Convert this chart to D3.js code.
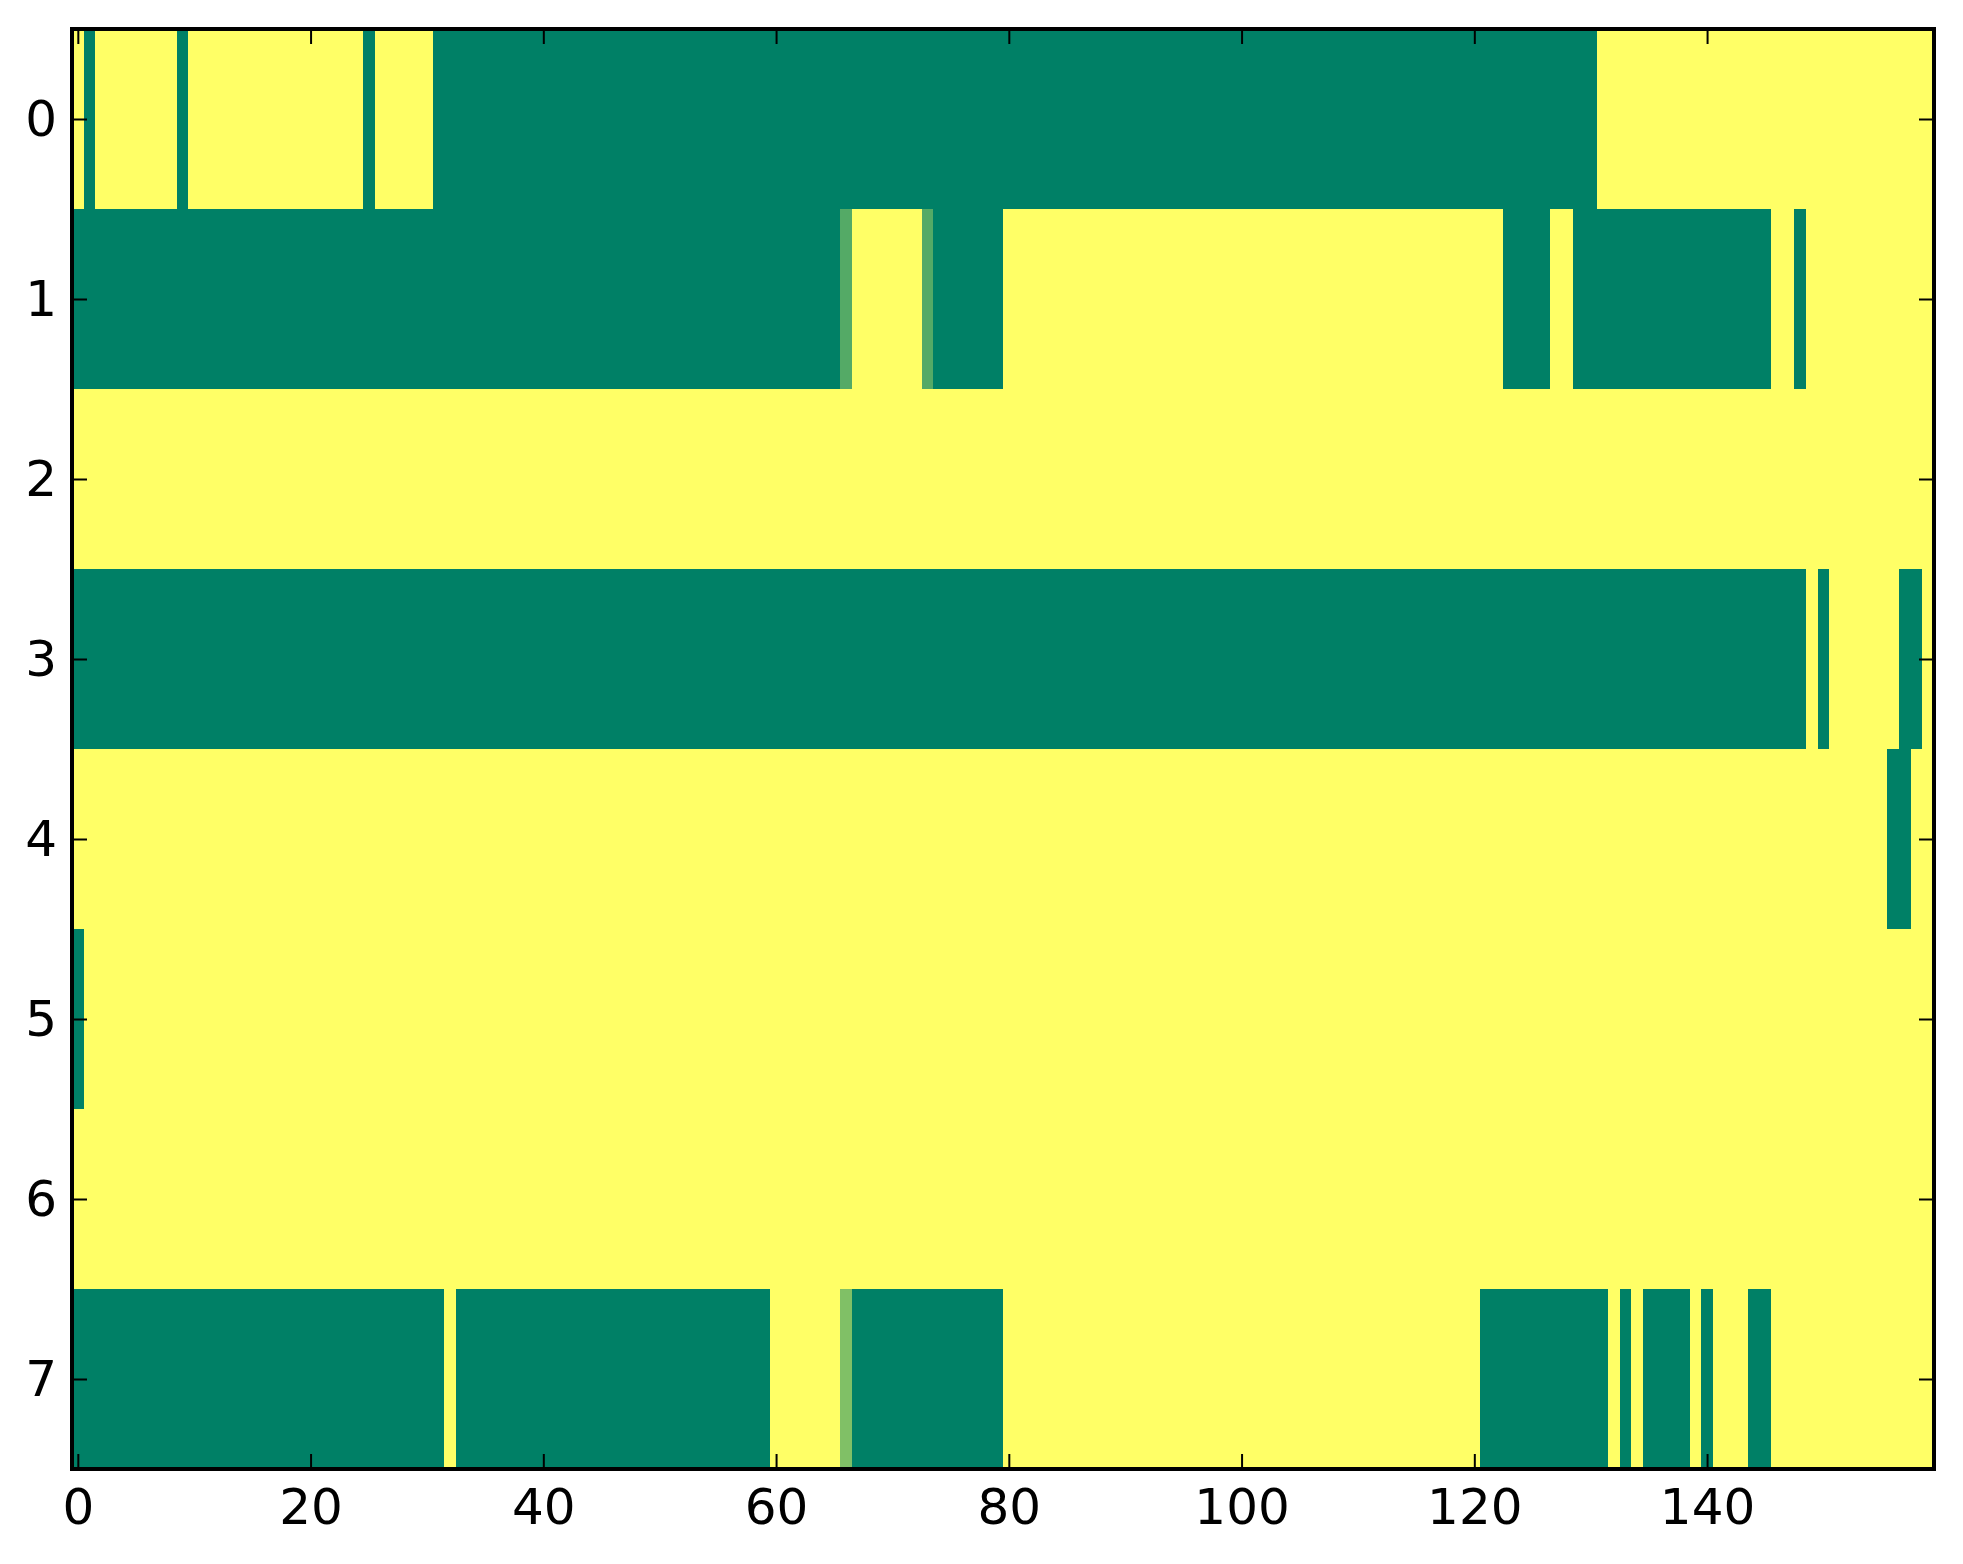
<html>
<script src='https://d3js.org/d3.v7.min.js'></script>
<style>
    body {
        margin: 0;
        background: #ffffff;
    }
</style>

<body>
    <svg id='chart' width=1963 height=1564></svg>
</body>

<script>
    // one array per matrix row, 160 columns each (0 = green, 1 = yellow)
    var row0 = [
        1, 0, 1, 1, 1, 1, 1, 1, 1, 0, 1, 1, 1, 1, 1, 1, 1, 1, 1, 1,
        1, 1, 1, 1, 1, 0, 1, 1, 1, 1, 1, 0, 0, 0, 0, 0, 0, 0, 0, 0,
        0, 0, 0, 0, 0, 0, 0, 0, 0, 0, 0, 0, 0, 0, 0, 0, 0, 0, 0, 0,
        0, 0, 0, 0, 0, 0, 0, 0, 0, 0, 0, 0, 0, 0, 0, 0, 0, 0, 0, 0,
        0, 0, 0, 0, 0, 0, 0, 0, 0, 0, 0, 0, 0, 0, 0, 0, 0, 0, 0, 0,
        0, 0, 0, 0, 0, 0, 0, 0, 0, 0, 0, 0, 0, 0, 0, 0, 0, 0, 0, 0,
        0, 0, 0, 0, 0, 0, 0, 0, 0, 0, 0, 1, 1, 1, 1, 1, 1, 1, 1, 1,
        1, 1, 1, 1, 1, 1, 1, 1, 1, 1, 1, 1, 1, 1, 1, 1, 1, 1, 1, 1
    ];
    var row1 = [
        0, 0, 0, 0, 0, 0, 0, 0, 0, 0, 0, 0, 0, 0, 0, 0, 0, 0, 0, 0,
        0, 0, 0, 0, 0, 0, 0, 0, 0, 0, 0, 0, 0, 0, 0, 0, 0, 0, 0, 0,
        0, 0, 0, 0, 0, 0, 0, 0, 0, 0, 0, 0, 0, 0, 0, 0, 0, 0, 0, 0,
        0, 0, 0, 0, 0, 0, 0.33, 1, 1, 1, 1, 1, 1, 0.33, 0, 0, 0, 0, 0, 0,
        1, 1, 1, 1, 1, 1, 1, 1, 1, 1, 1, 1, 1, 1, 1, 1, 1, 1, 1, 1,
        1, 1, 1, 1, 1, 1, 1, 1, 1, 1, 1, 1, 1, 1, 1, 1, 1, 1, 1, 1,
        1, 1, 1, 0, 0, 0, 0, 1, 1, 0, 0, 0, 0, 0, 0, 0, 0, 0, 0, 0,
        0, 0, 0, 0, 0, 0, 1, 1, 0, 1, 1, 1, 1, 1, 1, 1, 1, 1, 1, 1
    ];
    var row2 = [
        1, 1, 1, 1, 1, 1, 1, 1, 1, 1, 1, 1, 1, 1, 1, 1, 1, 1, 1, 1,
        1, 1, 1, 1, 1, 1, 1, 1, 1, 1, 1, 1, 1, 1, 1, 1, 1, 1, 1, 1,
        1, 1, 1, 1, 1, 1, 1, 1, 1, 1, 1, 1, 1, 1, 1, 1, 1, 1, 1, 1,
        1, 1, 1, 1, 1, 1, 1, 1, 1, 1, 1, 1, 1, 1, 1, 1, 1, 1, 1, 1,
        1, 1, 1, 1, 1, 1, 1, 1, 1, 1, 1, 1, 1, 1, 1, 1, 1, 1, 1, 1,
        1, 1, 1, 1, 1, 1, 1, 1, 1, 1, 1, 1, 1, 1, 1, 1, 1, 1, 1, 1,
        1, 1, 1, 1, 1, 1, 1, 1, 1, 1, 1, 1, 1, 1, 1, 1, 1, 1, 1, 1,
        1, 1, 1, 1, 1, 1, 1, 1, 1, 1, 1, 1, 1, 1, 1, 1, 1, 1, 1, 1
    ];
    var row3 = [
        0, 0, 0, 0, 0, 0, 0, 0, 0, 0, 0, 0, 0, 0, 0, 0, 0, 0, 0, 0,
        0, 0, 0, 0, 0, 0, 0, 0, 0, 0, 0, 0, 0, 0, 0, 0, 0, 0, 0, 0,
        0, 0, 0, 0, 0, 0, 0, 0, 0, 0, 0, 0, 0, 0, 0, 0, 0, 0, 0, 0,
        0, 0, 0, 0, 0, 0, 0, 0, 0, 0, 0, 0, 0, 0, 0, 0, 0, 0, 0, 0,
        0, 0, 0, 0, 0, 0, 0, 0, 0, 0, 0, 0, 0, 0, 0, 0, 0, 0, 0, 0,
        0, 0, 0, 0, 0, 0, 0, 0, 0, 0, 0, 0, 0, 0, 0, 0, 0, 0, 0, 0,
        0, 0, 0, 0, 0, 0, 0, 0, 0, 0, 0, 0, 0, 0, 0, 0, 0, 0, 0, 0,
        0, 0, 0, 0, 0, 0, 0, 0, 0, 1, 0, 1, 1, 1, 1, 1, 1, 0, 0, 1
    ];
    var row4 = [
        1, 1, 1, 1, 1, 1, 1, 1, 1, 1, 1, 1, 1, 1, 1, 1, 1, 1, 1, 1,
        1, 1, 1, 1, 1, 1, 1, 1, 1, 1, 1, 1, 1, 1, 1, 1, 1, 1, 1, 1,
        1, 1, 1, 1, 1, 1, 1, 1, 1, 1, 1, 1, 1, 1, 1, 1, 1, 1, 1, 1,
        1, 1, 1, 1, 1, 1, 1, 1, 1, 1, 1, 1, 1, 1, 1, 1, 1, 1, 1, 1,
        1, 1, 1, 1, 1, 1, 1, 1, 1, 1, 1, 1, 1, 1, 1, 1, 1, 1, 1, 1,
        1, 1, 1, 1, 1, 1, 1, 1, 1, 1, 1, 1, 1, 1, 1, 1, 1, 1, 1, 1,
        1, 1, 1, 1, 1, 1, 1, 1, 1, 1, 1, 1, 1, 1, 1, 1, 1, 1, 1, 1,
        1, 1, 1, 1, 1, 1, 1, 1, 1, 1, 1, 1, 1, 1, 1, 1, 0, 0, 1, 1
    ];
    var row5 = [
        0, 1, 1, 1, 1, 1, 1, 1, 1, 1, 1, 1, 1, 1, 1, 1, 1, 1, 1, 1,
        1, 1, 1, 1, 1, 1, 1, 1, 1, 1, 1, 1, 1, 1, 1, 1, 1, 1, 1, 1,
        1, 1, 1, 1, 1, 1, 1, 1, 1, 1, 1, 1, 1, 1, 1, 1, 1, 1, 1, 1,
        1, 1, 1, 1, 1, 1, 1, 1, 1, 1, 1, 1, 1, 1, 1, 1, 1, 1, 1, 1,
        1, 1, 1, 1, 1, 1, 1, 1, 1, 1, 1, 1, 1, 1, 1, 1, 1, 1, 1, 1,
        1, 1, 1, 1, 1, 1, 1, 1, 1, 1, 1, 1, 1, 1, 1, 1, 1, 1, 1, 1,
        1, 1, 1, 1, 1, 1, 1, 1, 1, 1, 1, 1, 1, 1, 1, 1, 1, 1, 1, 1,
        1, 1, 1, 1, 1, 1, 1, 1, 1, 1, 1, 1, 1, 1, 1, 1, 1, 1, 1, 1
    ];
    var row6 = [
        1, 1, 1, 1, 1, 1, 1, 1, 1, 1, 1, 1, 1, 1, 1, 1, 1, 1, 1, 1,
        1, 1, 1, 1, 1, 1, 1, 1, 1, 1, 1, 1, 1, 1, 1, 1, 1, 1, 1, 1,
        1, 1, 1, 1, 1, 1, 1, 1, 1, 1, 1, 1, 1, 1, 1, 1, 1, 1, 1, 1,
        1, 1, 1, 1, 1, 1, 1, 1, 1, 1, 1, 1, 1, 1, 1, 1, 1, 1, 1, 1,
        1, 1, 1, 1, 1, 1, 1, 1, 1, 1, 1, 1, 1, 1, 1, 1, 1, 1, 1, 1,
        1, 1, 1, 1, 1, 1, 1, 1, 1, 1, 1, 1, 1, 1, 1, 1, 1, 1, 1, 1,
        1, 1, 1, 1, 1, 1, 1, 1, 1, 1, 1, 1, 1, 1, 1, 1, 1, 1, 1, 1,
        1, 1, 1, 1, 1, 1, 1, 1, 1, 1, 1, 1, 1, 1, 1, 1, 1, 1, 1, 1
    ];
    var row7 = [
        0, 0, 0, 0, 0, 0, 0, 0, 0, 0, 0, 0, 0, 0, 0, 0, 0, 0, 0, 0,
        0, 0, 0, 0, 0, 0, 0, 0, 0, 0, 0, 0, 1, 0, 0, 0, 0, 0, 0, 0,
        0, 0, 0, 0, 0, 0, 0, 0, 0, 0, 0, 0, 0, 0, 0, 0, 0, 0, 0, 0,
        1, 1, 1, 1, 1, 1, 0.5, 0, 0, 0, 0, 0, 0, 0, 0, 0, 0, 0, 0, 0,
        1, 1, 1, 1, 1, 1, 1, 1, 1, 1, 1, 1, 1, 1, 1, 1, 1, 1, 1, 1,
        1, 1, 1, 1, 1, 1, 1, 1, 1, 1, 1, 1, 1, 1, 1, 1, 1, 1, 1, 1,
        1, 0, 0, 0, 0, 0, 0, 0, 0, 0, 0, 0, 1, 0, 1, 0, 0, 0, 0, 1,
        0, 1, 1, 1, 0, 0, 1, 1, 1, 1, 1, 1, 1, 1, 1, 1, 1, 1, 1, 1
    ];

    var rows = [row0, row1, row2, row3, row4, row5, row6, row7];
    var xTicks = [0, 20, 40, 60, 80, 100, 120, 140];
    var yTicks = [0, 1, 2, 3, 4, 5, 6, 7];

    // plot box in page pixels
    var mLeft = 72, mRight = 1934, mTop = 29, mBottom = 1469;
    var tickLen = 15;

    var svg = d3.select('#chart');

    var x = d3.scaleLinear()
        .domain([-0.5, row0.length - 0.5])
        .range([mLeft, mRight]);

    var y = d3.scaleLinear()
        .domain([-0.5, rows.length - 0.5])
        .range([mTop, mBottom]);

    // matplotlib 'summer' colormap
    var color = d3.scaleLinear()
        .domain([0, 1])
        .range(['#008066', '#ffff66'])
        .interpolate(d3.interpolateRgb);

    var cells = [];
    rows.forEach(function(r, i) {
        r.forEach(function(v, j) {
            cells.push({ row: i, col: j, v: v });
        });
    });

    svg.append('g')
        .selectAll('rect')
        .data(cells)
        .enter()
        .append('rect')
        .attr('x', function(d) { return x(d.col - 0.5); })
        .attr('y', function(d) { return y(d.row - 0.5); })
        .attr('width', function(d) { return x(d.col + 0.5) - x(d.col - 0.5) + 0.5; })
        .attr('height', function(d) { return y(d.row + 0.5) - y(d.row - 0.5) + 0.5; })
        .attr('fill', function(d) { return color(d.v); })
        .attr('shape-rendering', 'crispEdges');

    function styleAxis(g) {
        g.select('.domain').remove();
        g.selectAll('.tick line').attr('stroke', '#000').attr('stroke-width', 2);
        g.selectAll('.tick text')
            .attr('fill', '#000')
            .style('font-family', "'DejaVu Sans', sans-serif")
            .style('font-size', '50px');
    }

    // ticks point inward, on all four sides
    svg.append('g')
        .attr('transform', 'translate(0,' + mBottom + ')')
        .call(d3.axisBottom(x).tickValues(xTicks).tickSizeInner(-tickLen).tickSizeOuter(0).tickPadding(19))
        .call(styleAxis);

    svg.append('g')
        .attr('transform', 'translate(0,' + mTop + ')')
        .call(d3.axisTop(x).tickValues(xTicks).tickSizeInner(-tickLen).tickSizeOuter(0).tickFormat(''))
        .call(styleAxis);

    svg.append('g')
        .attr('transform', 'translate(' + mLeft + ',0)')
        .call(d3.axisLeft(y).tickValues(yTicks).tickSizeInner(-tickLen).tickSizeOuter(0).tickPadding(15))
        .call(styleAxis);

    svg.append('g')
        .attr('transform', 'translate(' + mRight + ',0)')
        .call(d3.axisRight(y).tickValues(yTicks).tickSizeInner(-tickLen).tickSizeOuter(0).tickFormat(''))
        .call(styleAxis);

    // frame
    svg.append('rect')
        .attr('x', mLeft)
        .attr('y', mTop)
        .attr('width', mRight - mLeft)
        .attr('height', mBottom - mTop)
        .attr('fill', 'none')
        .attr('stroke', '#000')
        .attr('stroke-width', 4);
</script>

</html>
